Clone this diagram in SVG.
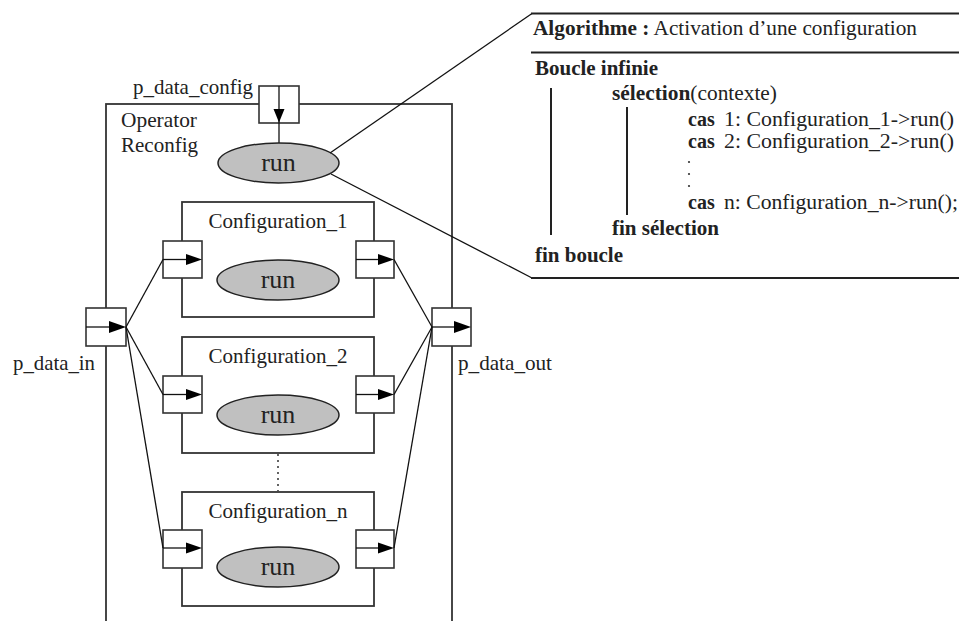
<svg xmlns="http://www.w3.org/2000/svg" width="959" height="621" viewBox="0 0 959 621">
<defs>
<style>
.box{fill:#fff;stroke:#333;stroke-width:1.8}
.port{fill:#fff;stroke:#333;stroke-width:1.6}
.run{fill:#c0c0c0;stroke:#222;stroke-width:1.5}
.ln{stroke:#111;stroke-width:1.3;fill:none}
.pl{stroke:#222;stroke-width:2;fill:none}
.ah{fill:#000;stroke:none}
text{font-family:"Liberation Serif","Times New Roman",serif;fill:#222}
.lbl{font-size:21px}
.rt{font-size:26px;text-anchor:middle}
.b{font-weight:bold}
.pt{font-size:20px}
</style>
</defs>
<rect width="959" height="621" fill="#fff"/>

<g id="operator">
<rect class="box" x="106" y="104" width="346" height="600"/>
<text class="lbl" x="121" y="127" textLength="76" lengthAdjust="spacingAndGlyphs">Operator</text>
<text class="lbl" x="121" y="152" textLength="77" lengthAdjust="spacingAndGlyphs">Reconfig</text>
</g>

<g id="p_data_config">
<rect class="port" x="259" y="86" width="40" height="37"/>
<line class="ln" x1="279" y1="86" x2="279" y2="143"/>
<polygon class="ah" points="273.5,109 284.5,109 279,122.5"/>
<text class="lbl" x="133" y="94" textLength="120" lengthAdjust="spacingAndGlyphs">p_data_config</text>
</g>

<g id="run_main">
<ellipse class="run" cx="278.5" cy="163" rx="60.5" ry="20"/>
<text class="rt" x="278.5" y="171">run</text>
</g>

<g id="p_data_in">
<rect class="port" x="86" y="308" width="40" height="38"/>
<line class="ln" x1="86" y1="327" x2="110" y2="327"/>
<polygon class="ah" points="109,321 109,333 126,327"/>
<text class="lbl" x="13" y="370" textLength="82" lengthAdjust="spacingAndGlyphs">p_data_in</text>
</g>

<g id="p_data_out">
<rect class="port" x="432" y="308" width="39" height="38"/>
<line class="ln" x1="432" y1="327" x2="455" y2="327"/>
<polygon class="ah" points="454,321 454,333 471,327"/>
<text class="lbl" x="458" y="370" textLength="94" lengthAdjust="spacingAndGlyphs">p_data_out</text>
</g>

<g id="config1">
<rect class="box" x="182" y="202" width="192" height="115"/>
<text class="lbl" x="278" y="228" text-anchor="middle">Configuration_1</text>
<ellipse class="run" cx="278" cy="280" rx="61" ry="20"/>
<text class="rt" x="278" y="288">run</text>
<rect class="port" x="163" y="241" width="39" height="37"/>
<line class="ln" x1="163" y1="259.5" x2="187" y2="259.5"/>
<polygon class="ah" points="186,254 186,265 202,259.5"/>
<rect class="port" x="356" y="241" width="38" height="37"/>
<line class="ln" x1="356" y1="259.5" x2="379" y2="259.5"/>
<polygon class="ah" points="378,254 378,265 394,259.5"/>
</g>

<g id="config2">
<rect class="box" x="182" y="337" width="192" height="116"/>
<text class="lbl" x="278" y="363" text-anchor="middle">Configuration_2</text>
<ellipse class="run" cx="278" cy="415" rx="61" ry="20"/>
<text class="rt" x="278" y="423">run</text>
<rect class="port" x="163" y="376" width="39" height="37"/>
<line class="ln" x1="163" y1="394.5" x2="187" y2="394.5"/>
<polygon class="ah" points="186,389 186,400 202,394.5"/>
<rect class="port" x="356" y="376" width="38" height="37"/>
<line class="ln" x1="356" y1="394.5" x2="379" y2="394.5"/>
<polygon class="ah" points="378,389 378,400 394,394.5"/>
</g>

<g id="confign">
<rect class="box" x="182" y="492" width="192" height="114"/>
<text class="lbl" x="278" y="518" text-anchor="middle">Configuration_n</text>
<ellipse class="run" cx="278" cy="567" rx="61" ry="20"/>
<text class="rt" x="278" y="575">run</text>
<rect class="port" x="163" y="530" width="39" height="38"/>
<line class="ln" x1="163" y1="548" x2="187" y2="548"/>
<polygon class="ah" points="186,542.5 186,553.5 202,548"/>
<rect class="port" x="356" y="530" width="38" height="38"/>
<line class="ln" x1="356" y1="548" x2="379" y2="548"/>
<polygon class="ah" points="378,542.5 378,553.5 394,548"/>
</g>

<g id="connectors">
<line class="ln" x1="126" y1="327" x2="163" y2="259.5"/>
<line class="ln" x1="126" y1="327" x2="163" y2="394.5"/>
<line class="ln" x1="126" y1="327" x2="163" y2="548"/>
<line class="ln" x1="394" y1="259.5" x2="432" y2="327"/>
<line class="ln" x1="394" y1="394.5" x2="432" y2="327"/>
<line class="ln" x1="394" y1="548" x2="432" y2="327"/>
<line class="ln" x1="278" y1="454" x2="278" y2="491" stroke-dasharray="2,4"/>
<line class="ln" x1="330" y1="153" x2="532" y2="13.5"/>
<line class="ln" x1="331" y1="174" x2="532" y2="278"/>
</g>

<g id="algorithm">
<line class="pl" x1="531" y1="13.5" x2="959" y2="13.5"/>
<line class="pl" x1="531" y1="52.5" x2="959" y2="52.5"/>
<line class="pl" x1="531" y1="278" x2="959" y2="278"/>
<text class="pt" x="533" y="35" textLength="384" lengthAdjust="spacingAndGlyphs"><tspan class="b">Algorithme :</tspan> Activation d’une configuration</text>
<text class="pt b" x="535" y="75" textLength="123" lengthAdjust="spacingAndGlyphs">Boucle infinie</text>
<line class="pl" x1="551" y1="88" x2="551" y2="235"/>
<text class="pt" x="612" y="100" textLength="165" lengthAdjust="spacingAndGlyphs"><tspan class="b">sélection</tspan>(contexte)</text>
<line class="pl" x1="627" y1="107" x2="627" y2="215"/>
<text class="pt b" x="688" y="126">cas</text>
<text class="pt" x="724" y="126" textLength="230" lengthAdjust="spacingAndGlyphs">1: Configuration_1-&gt;run()</text>
<text class="pt b" x="688" y="148">cas</text>
<text class="pt" x="724" y="148" textLength="230" lengthAdjust="spacingAndGlyphs">2: Configuration_2-&gt;run()</text>
<circle cx="689" cy="162" r="1.1" fill="#333"/>
<circle cx="689" cy="174" r="1.1" fill="#333"/>
<circle cx="689" cy="186" r="1.1" fill="#333"/>
<text class="pt b" x="688" y="209">cas</text>
<text class="pt" x="724" y="209" textLength="234" lengthAdjust="spacingAndGlyphs">n: Configuration_n-&gt;run();</text>
<text class="pt b" x="612" y="235" textLength="107" lengthAdjust="spacingAndGlyphs">fin sélection</text>
<text class="pt b" x="535" y="262" textLength="88" lengthAdjust="spacingAndGlyphs">fin boucle</text>
</g>
</svg>
